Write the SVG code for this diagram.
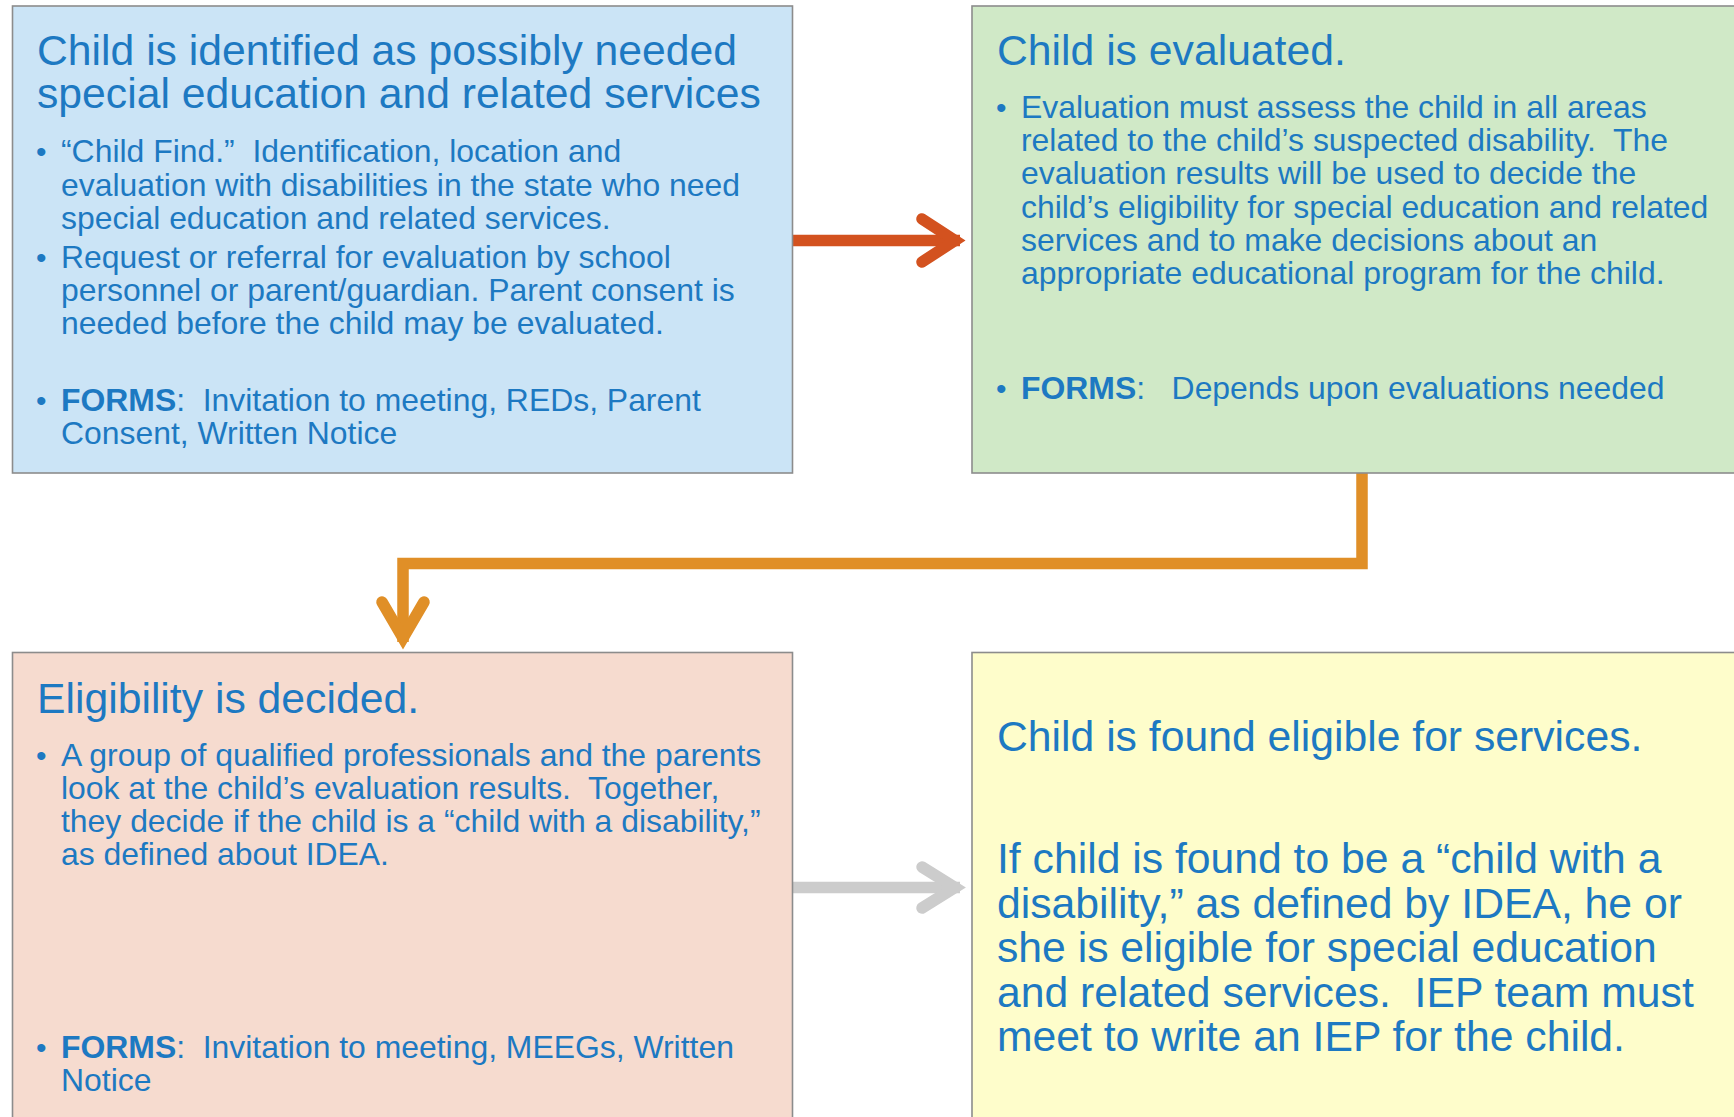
<svg xmlns="http://www.w3.org/2000/svg" width="1734" height="1117" viewBox="0 0 1734 1117">
<style>
text{font-family:"Liberation Sans",Arial,sans-serif;fill:#1D79C2;white-space:pre}
.t{font-size:42.7px}
.b{font-size:31.9px}
.d{font-size:30px}
.f{font-weight:bold}
.box{stroke:#8C8C8C;stroke-width:1.6}
.con{fill:none;stroke-width:11.5;stroke-linecap:butt;stroke-linejoin:miter}
.head{fill:none;stroke-width:11.5;stroke-linecap:round;stroke-linejoin:miter;stroke-miterlimit:6}
</style>
<rect width="1734" height="1117" fill="#FFFFFF"/>
<g id="connectors">
<line class="con" x1="793" y1="240.5" x2="960" y2="240.5" stroke="#D3521F"/>
<polyline class="head" points="922,219 955,240.5 922,262" stroke="#D3521F"/>
<polyline class="con" points="1362,473 1362,563.5 403,563.5 403,642" stroke="#E08F27"/>
<polyline class="head" points="382,602 403,638 424,602" stroke="#E08F27"/>
<line class="con" x1="793" y1="887.5" x2="960" y2="887.5" stroke="#CCCCCC"/>
<polyline class="head" points="922,867 955,887.5 922,908" stroke="#CCCCCC"/>
</g>
<g id="node-identified">
<rect class="box" x="12.5" y="6" width="780" height="467" fill="#CBE4F6"/>
<text class="t" x="37" y="65">Child is identified as possibly needed<tspan x="37" dy="43">special education and related services</tspan></text>
<text class="d" x="36" y="162">•</text>
<text class="b" x="61" y="162">“Child Find.”  Identification, location and</text>
<text class="b" x="61" y="195.5">evaluation with disabilities in the state who need</text>
<text class="b" x="61" y="229">special education and related services.</text>
<text class="d" x="36" y="268">•</text>
<text class="b" x="61" y="268">Request or referral for evaluation by school</text>
<text class="b" x="61" y="301">personnel or parent/guardian. Parent consent is</text>
<text class="b" x="61" y="334">needed before the child may be evaluated.</text>
<text class="d" x="36" y="411">•</text>
<text class="b" x="61" y="411"><tspan class="f">FORMS</tspan>:  Invitation to meeting, REDs, Parent</text>
<text class="b" x="61" y="444">Consent, Written Notice</text>
</g>
<g id="node-evaluated">
<rect class="box" x="972" y="6" width="780" height="467" fill="#D0E9C7"/>
<text class="t" x="997" y="65">Child is evaluated.</text>
<text class="d" x="996" y="117.5">•</text>
<text class="b" x="1021" y="117.5">Evaluation must assess the child in all areas</text>
<text class="b" x="1021" y="151">related to the child’s suspected disability.  The</text>
<text class="b" x="1021" y="184">evaluation results will be used to decide the</text>
<text class="b" x="1021" y="217.5">child’s eligibility for special education and related</text>
<text class="b" x="1021" y="251">services and to make decisions about an</text>
<text class="b" x="1021" y="284">appropriate educational program for the child.</text>
<text class="d" x="996" y="399">•</text>
<text class="b" x="1021" y="399"><tspan class="f">FORMS</tspan>:   Depends upon evaluations needed</text>
</g>
<g id="node-eligibility">
<rect class="box" x="12.5" y="652.5" width="780" height="480" fill="#F6DBCF"/>
<text class="t" x="37" y="713">Eligibility is decided.</text>
<text class="d" x="36" y="766">•</text>
<text class="b" x="61" y="766">A group of qualified professionals and the parents</text>
<text class="b" x="61" y="799">look at the child’s evaluation results.  Together,</text>
<text class="b" x="61" y="832">they decide if the child is a “child with a disability,”</text>
<text class="b" x="61" y="865">as defined about IDEA.</text>
<text class="d" x="36" y="1058">•</text>
<text class="b" x="61" y="1058"><tspan class="f">FORMS</tspan>:  Invitation to meeting, MEEGs, Written</text>
<text class="b" x="61" y="1091">Notice</text>
</g>
<g id="node-found-eligible">
<rect class="box" x="972" y="652.5" width="780" height="480" fill="#FEFDCB"/>
<text class="t" x="997" y="751">Child is found eligible for services.</text>
<text class="t" x="997" y="873">If child is found to be a “child with a</text>
<text class="t" x="997" y="917.5">disability,” as defined by IDEA, he or</text>
<text class="t" x="997" y="962">she is eligible for special education</text>
<text class="t" x="997" y="1006.5">and related services.  IEP team must</text>
<text class="t" x="997" y="1051">meet to write an IEP for the child.</text>
</g>
</svg>
